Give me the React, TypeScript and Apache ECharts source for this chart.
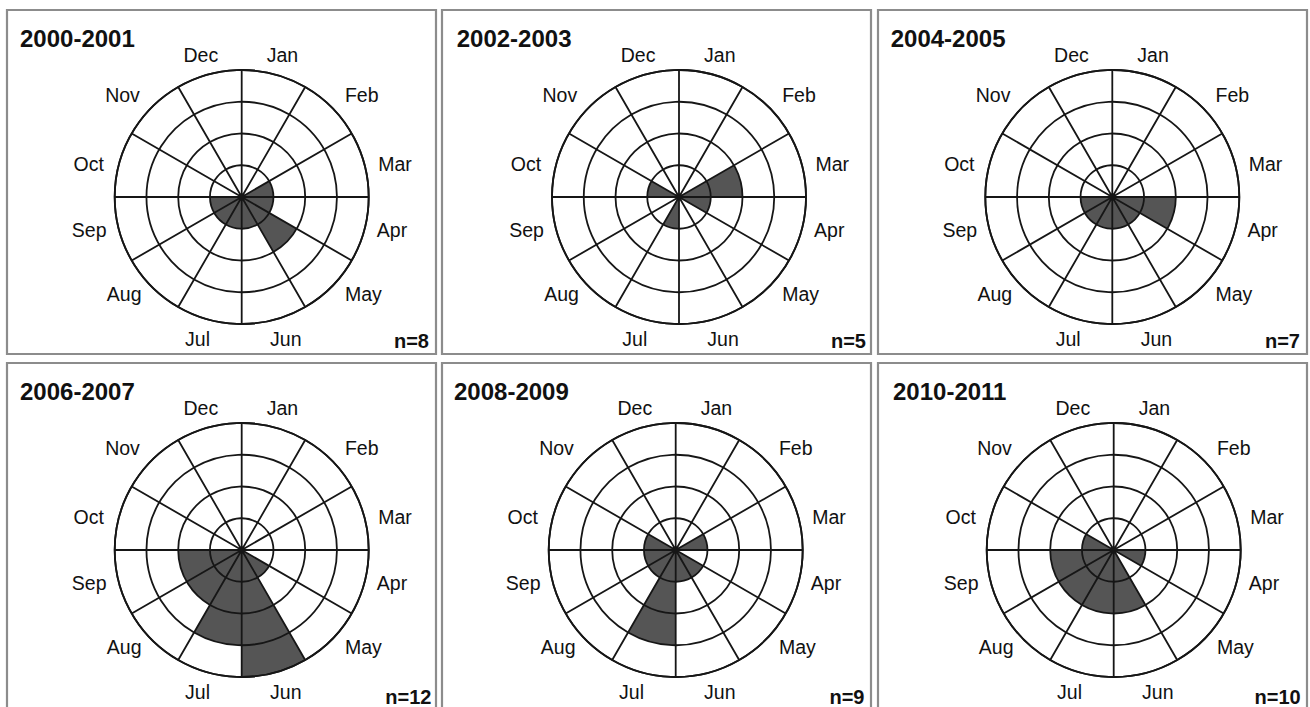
import React, { useEffect, useRef } from "react";
import * as echarts from "echarts";

// ---------- data ----------
const months = ["Jan", "Feb", "Mar", "Apr", "May", "Jun", "Jul", "Aug", "Sep", "Oct", "Nov", "Dec"];
const periods = ["2000-2001", "2002-2003", "2004-2005", "2006-2007", "2008-2009", "2010-2011"];
const sampleSizes = [8, 5, 7, 12, 9, 10];
const counts2000_2001 = [0, 0, 1, 1, 2, 1, 1, 1, 1, 0, 0, 0];
const counts2002_2003 = [0, 0, 2, 1, 0, 0, 1, 0, 0, 1, 0, 0];
const counts2004_2005 = [0, 0, 0, 2, 1, 1, 1, 1, 1, 0, 0, 0];
const counts2006_2007 = [0, 0, 0, 0, 1, 4, 3, 2, 2, 0, 0, 0];
const counts2008_2009 = [0, 0, 1, 0, 1, 1, 3, 1, 1, 1, 0, 0];
const counts2010_2011 = [0, 0, 0, 1, 0, 2, 2, 2, 2, 1, 0, 0];
const radiusTicks = [0, 1, 2, 3, 4];

const allCounts = [
  counts2000_2001,
  counts2002_2003,
  counts2004_2005,
  counts2006_2007,
  counts2008_2009,
  counts2010_2011,
];

// ---------- layout ----------
const boxLefts = [7, 442, 878];
const boxWidth = 429;
const boxTops = [10, 363];
const boxHeight = 344;
const centersX = [241.7, 679, 1112.3, 241.7, 675.7, 1113.7];
const centerDY = 187;
const titleX = [20, 456.7, 890.7, 20, 454, 893];
const titleY = [26.5, 379];
const nRight = [429, 866, 1300, 431.5, 864.5, 1300.7];
const nBottom = [351, 706.5];
const outerRadius = 127;
// per-month label nudges [top, right, bottom, left] and line heights
const labelPads = [
  [0, 0, 9, 15.8],
  [0, 0, 2.4, 13.4],
  [0, 0, 0, 13.8],
  [0, 0, 0, 12.45],
  [0, 0, 0, 13.4],
  [8.9, 0, 0, 22.4],
  [8.9, 22.6, 0, 0],
  [0, 10.35, 0, 0],
  [0, 12.45, 0, 0],
  [0, 15.15, 0, 0],
  [0, 12.05, 2.4, 0],
  [0, 16, 9, 0],
];
const labelLineHeights = [20, 20, 20, 20, 15, 20, 20, 15, 20, 20, 20, 20];
const LINE = "#161616";
const FILL = "#555555";
const FONT = "Liberation Sans, Arial, Helvetica, sans-serif";

export default function App() {
  const ref = useRef<HTMLDivElement>(null);

  useEffect(() => {
    if (!ref.current) return;
    const chart = echarts.init(ref.current, undefined, { renderer: "svg" });

    const polar: any[] = [];
    const angleAxis: any[] = [];
    const radiusAxis: any[] = [];
    const series: any[] = [];
    const graphic: any[] = [];

    const monthData = months.map((m, k) => ({
      value: m,
      textStyle: { padding: labelPads[k], lineHeight: labelLineHeights[k] },
    }));

    periods.forEach((p, i) => {
      const col = i % 3;
      const row = Math.floor(i / 3);
      const bx = boxLefts[col];
      const by = boxTops[row];
      polar.push({ center: [centersX[i], by + centerDY], radius: outerRadius });
      angleAxis.push({
        polarIndex: i,
        type: "category",
        data: monthData,
        startAngle: 90,
        clockwise: true,
        boundaryGap: true,
        z: 5,
        axisLine: { show: true, lineStyle: { color: LINE, width: 1.8 } },
        axisTick: { show: false },
        splitLine: { show: true, lineStyle: { color: LINE, width: 1.8 } },
        axisLabel: {
          show: true,
          margin: 0,
          color: "#111",
          fontSize: 19.5,
          fontFamily: FONT,
          interval: 0,
        },
      });
      radiusAxis.push({
        polarIndex: i,
        type: "value",
        min: radiusTicks[0],
        max: radiusTicks[radiusTicks.length - 1],
        interval: 1,
        z: 5,
        axisLine: { show: false },
        axisTick: { show: false },
        axisLabel: { show: false },
        splitLine: { show: true, lineStyle: { color: LINE, width: 1.8 } },
      });
      series.push({
        type: "bar",
        coordinateSystem: "polar",
        polarIndex: i,
        data: allCounts[i],
        barCategoryGap: "0%",
        z: 2,
        itemStyle: { color: FILL },
        silent: true,
      });
      graphic.push({
        type: "rect",
        shape: { x: bx, y: by, width: boxWidth, height: row === 1 ? boxHeight + 20 : boxHeight },
        style: { fill: "none", stroke: "#8c8c8c", lineWidth: 2.2 },
        silent: true,
      });
      graphic.push({
        type: "text",
        x: titleX[i],
        y: titleY[row],
        style: {
          text: p,
          fill: "#111",
          font: `bold 24px ${FONT}`,
          align: "left",
          verticalAlign: "top",
        },
      });
      graphic.push({
        type: "text",
        x: nRight[i],
        y: nBottom[row],
        style: {
          text: `n=${sampleSizes[i]}`,
          fill: "#111",
          font: `bold 20px ${FONT}`,
          align: "right",
          verticalAlign: "bottom",
        },
      });
    });

    chart.setOption({
      animation: false,
      backgroundColor: "#ffffff",
      polar,
      angleAxis,
      radiusAxis,
      series,
      graphic,
    });

    return () => chart.dispose();
  }, []);

  return (
    <div
      ref={ref}
      style={{ position: "fixed", left: 0, top: 0, width: 1310, height: 707 }}
    />
  );
}
